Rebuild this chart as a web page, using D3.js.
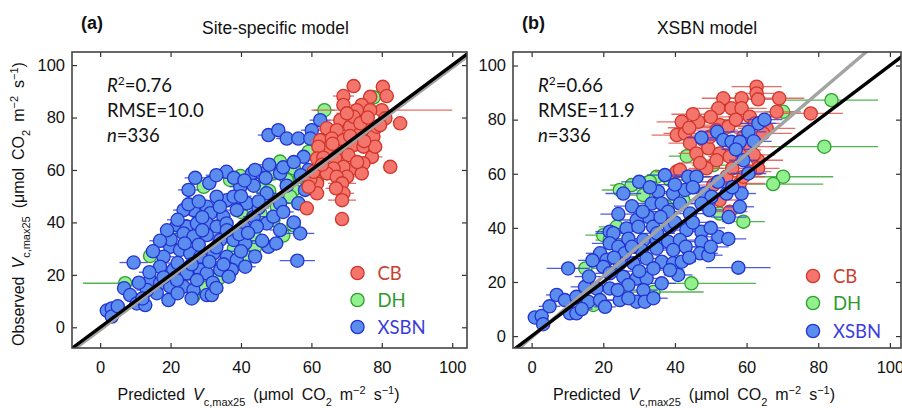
<!DOCTYPE html>
<html>
<head>
<meta charset="utf-8">
<script src="https://cdn.jsdelivr.net/npm/d3@7"></script>
<style>
  body { margin: 0; background: #fff; }
  svg text { font-family: "Liberation Sans", Arial, sans-serif; fill: #111; }
  .calib { font-family: Lato, "Open Sans", sans-serif; }
</style>
</head>
<body>
<svg id="chart" width="902" height="408"></svg>
<script>
// axis ticks (same on both axes / panels)
const tickValues = [0, 20, 40, 60, 80, 100];
const groups = ["CB", "DH", "XSBN"];

// [predicted, observed, error half-width] -- panel (a) site-specific model
const siteCB = [
  [72.0,92.0,2],[80.3,91.7,2],[81.4,88.2,2],[69.1,88.2,3],[69.1,84.8,2],[76.7,87.9,2],[74.3,84.8,3],
  [72.9,82.8,4],[80.0,82.8,20],[68.2,79.0,3],[75.3,79.0,2],[81.0,79.7,2],[85.2,77.8,2],[64.4,75.9,3],
  [67.2,75.2,3],[71.0,76.5,2],[73.9,74.0,3],[77.6,72.7,2],[62.5,71.4,3],[65.8,72.0,2],[69.1,71.4,3],
  [72.0,69.5,4],[74.8,68.9,2],[64.4,68.2,3],[68.2,67.0,3],[62.0,68.9,2],[70.5,65.7,2],[77.2,65.0,3],
  [66.8,64.4,4],[61.6,64.4,2],[74.8,62.5,3],[72.0,60.6,2],[82.4,61.2,2],[69.1,61.2,4],[66.3,60.6,3],
  [70.1,57.4,4],[74.3,58.7,2],[64.4,58.7,3],[67.2,57.4,3],[68.7,54.9,4],[61.6,54.9,2],[69.1,51.1,3],
  [61.6,51.1,2],[68.7,48.5,4],[58.7,45.4,2],[68.7,41.3,2],[59.7,56.4,2],[59.2,53.6,2],[72.0,80.3,3],
  [73.9,77.8,2],[78.6,76.5,2],[70.1,81.6,3],[76.7,82.8,2],[79.5,77.1,2],[78.1,68.9,2],[63.4,64.7,3],
  [60.6,59.3,2],[66.0,70.0,3],[71.0,73.0,2],[75.0,71.0,3],[63.0,62.0,2],[67.0,53.0,3],[73.0,63.0,2],
  [76.0,80.0,2]
];
const siteDH = [
  [77.7,87.7,2],[63.7,82.8,3],[74.8,70.1,2],[59.2,67.0,2],[51.1,63.2,3],[62.9,58.7,2],[61.6,55.5,2],
  [39.8,57.7,2],[29.4,53.6,2],[55.0,60.6,3],[49.2,58.7,3],[53.0,56.2,2],[55.0,52.4,3],[56.3,47.3,3],
  [54.0,49.8,2],[45.5,53.6,2],[47.3,48.5,3],[50.2,46.0,2],[54.9,38.9,2],[44.0,34.4,3],[44.0,30.5,2],
  [41.7,26.9,2],[34.1,20.2,2],[14.2,27.2,2],[7.1,16.8,12],[26.5,11.7,2],[21.8,37.1,2],[36.9,56.2,2],
  [56.8,57.4,2],[60.6,53.6,2],[45.5,43.5,3],[49.2,40.9,2],[33.7,18.7,2],[35.0,40.0,2],[40.0,44.0,3],
  [38.0,30.0,2],[30.0,15.0,2],[52.0,35.0,2],[48.0,52.0,2]
];
const siteXSBN = [
  [62.5,79.0,3],[60.1,75.2,3],[47.8,73.3,3],[50.6,75.2,2],[53.0,72.0,3],[56.3,72.0,3],[59.7,72.0,2],
  [57.8,65.0,2],[59.2,60.0,3],[35.9,59.3,3],[43.1,58.7,2],[45.9,58.7,2],[51.1,58.7,2],[25.1,52.4,3],
  [39.8,53.6,3],[43.6,54.0,2],[47.3,51.1,3],[51.1,47.3,3],[56.3,47.3,2],[58.2,52.4,2],[36.0,48.5,3],
  [33.1,49.8,2],[37.9,49.8,3],[41.7,47.3,3],[30.3,46.0,3],[26.5,44.7,2],[23.7,44.7,3],[31.3,43.5,3],
  [35.0,42.2,2],[38.8,44.7,3],[43.6,42.2,3],[47.3,39.6,2],[49.2,42.2,3],[21.8,39.0,3],[24.6,38.4,2],
  [27.5,39.6,3],[30.3,39.6,2],[33.1,38.4,3],[35.9,39.6,2],[40.7,38.4,3],[44.5,38.4,2],[51.1,37.1,3],
  [56.8,35.8,4],[23.7,35.8,3],[26.5,34.6,2],[30.3,35.2,3],[34.1,33.3,3],[37.9,33.3,2],[41.2,32.0,3],
  [47.8,30.7,2],[19.9,30.7,3],[22.7,29.5,2],[25.6,28.2,3],[28.4,26.9,3],[32.2,28.2,2],[36.0,26.9,3],
  [38.8,25.7,2],[41.2,23.1,3],[37.4,21.9,2],[18.0,26.9,3],[17.0,23.1,2],[20.8,21.9,3],[24.6,20.6,3],
  [28.4,21.9,2],[30.3,20.6,3],[34.1,21.9,2],[36.5,19.3,2],[56.0,25.4,5],[9.5,24.7,4],[14.2,18.0,3],
  [17.0,16.8,3],[19.9,15.5,2],[23.7,15.5,3],[26.5,14.2,2],[30.3,12.3,2],[31.7,12.3,2],[27.5,18.0,3],
  [21.8,18.0,2],[6.8,14.9,2],[8.5,12.3,2],[10.4,9.1,2],[12.8,8.5,2],[1.9,6.4,2],[3.3,7.2,2],
  [3.3,4.1,2],[16.1,13.0,2],[19.4,10.4,2],[13.3,14.2,3],[25.1,46.9,2],[29.0,42.0,3],[33.0,30.5,2],
  [39.5,35.5,3],[45.0,45.5,3],[28.0,31.5,2],[22.0,24.5,3],[32.0,17.0,2],[20.0,33.5,2],
  [27.0,57.0,3],[31.0,55.0,2],[33.0,58.0,3],[38.0,57.0,2],[41.0,56.0,3],[44.0,60.0,2],[47.0,57.0,3],
  [53.0,54.0,2],[40.0,50.0,3],[45.0,48.0,2],[34.0,46.0,3],[28.0,48.0,2],[22.0,41.0,3],[19.0,37.0,2],
  [17.0,33.0,3],[15.0,29.0,2],[24.0,32.0,3],[29.0,37.0,2],[36.0,37.0,3],[42.0,36.0,2],[46.0,33.0,3],
  [50.0,32.0,2],[52.0,44.0,3],[55.0,40.0,2],[26.0,24.0,2],[31.0,25.0,3],[35.0,24.0,2],[40.0,29.0,3],
  [44.0,27.0,2],[11.0,17.0,2],[14.0,21.0,3],[18.0,19.0,2],[22.0,13.0,2],[26.0,11.0,2],[33.0,15.0,2],
  [12.0,11.0,2],[5.0,8.0,2],[48.0,62.0,3],[52.0,61.0,2],[55.0,63.0,3],[57.0,58.0,2]
];

// panel (b) XSBN model
const xsbnCB = [
  [62.8,92.2,7],[62.8,89.7,6],[53.5,87.9,6],[58.6,87.9,6],[63.2,87.5,5],[69.1,87.9,7],[52.1,84.2,7],
  [55.8,84.2,6],[58.6,84.2,7],[68.4,82.9,6],[77.9,82.3,9],[41.9,79.2,7],[46.5,79.2,6],[52.5,78.0,8],
  [54.9,77.4,7],[60.9,81.1,6],[62.3,78.6,7],[65.6,76.8,8],[40.5,74.3,7],[42.8,74.9,6],[44.2,71.3,6],
  [47.9,72.5,7],[49.3,69.4,6],[52.5,67.5,7],[55.3,66.3,6],[46.0,67.5,5],[51.6,65.0,7],[58.1,68.8,6],
  [63.2,65.0,7],[63.2,62.0,6],[40.5,60.8,6],[41.4,61.4,5],[60.9,60.8,6],[58.1,56.4,7],[52.5,50.3,6],
  [55.3,46.0,5],[50.7,55.8,6],[54.4,58.9,7],[49.8,73.7,6],[59.1,73.7,7],[51.6,76.1,6],[64.6,74.9,8],
  [59.1,58.9,6],[48.8,62.0,5],[45.0,82.0,6],[50.0,81.0,7],[57.0,80.0,6],[61.0,70.0,7],[47.0,64.0,6],
  [56.0,62.0,7],[62.0,67.0,6],[44.0,77.0,6]
];
const xsbnDH = [
  [83.7,87.2,13],[70.2,82.9,5],[81.7,70.0,15],[43.3,66.5,5],[50.7,63.2,6],[70.2,58.9,14],[67.4,56.2,14],
  [34.9,58.9,6],[33.0,57.1,6],[27.9,55.8,6],[24.6,54.0,5],[31.2,52.1,6],[38.6,57.7,6],[46.0,58.9,5],
  [52.5,45.3,5],[59.1,42.3,6],[44.6,19.5,18],[20.0,37.3,5],[23.7,40.4,5],[21.8,35.5,4],[37.7,47.8,6],
  [42.3,50.3,5],[35.8,42.9,5],[34.0,16.3,14],[17.2,11.5,4],[15.0,25.0,4]
];
const xsbnXSBN = [
  [63.3,78.6,5],[60.5,75.5,5],[51.8,75.5,5],[47.4,73.3,4],[53.5,72.5,5],[55.8,71.8,4],[58.1,71.8,5],
  [59.1,65.0,4],[60.5,60.1,5],[37.2,59.5,5],[43.7,58.9,4],[46.0,58.9,4],[25.6,52.7,5],[35.3,53.4,4],
  [39.5,52.7,5],[42.8,54.0,4],[48.4,52.7,5],[50.2,51.5,4],[54.4,52.7,5],[58.6,52.7,4],[58.1,47.8,4],
  [33.5,49.0,5],[36.3,49.0,4],[41.4,49.0,5],[47.4,49.0,4],[38.1,46.0,4],[44.2,45.3,5],[49.6,46.6,4],
  [24.2,45.1,5],[32.5,44.1,4],[29.3,42.9,5],[26.5,39.8,4],[29.8,40.4,5],[33.9,40.4,4],[38.6,40.4,5],
  [43.2,39.2,4],[47.4,38.6,5],[21.8,38.6,4],[22.8,38.0,5],[52.1,36.7,4],[54.9,35.9,5],[31.2,35.5,4],
  [34.9,35.5,5],[38.1,34.9,4],[41.4,35.5,5],[47.4,34.9,4],[21.8,34.3,5],[24.2,33.0,4],[26.0,30.6,5],
  [30.7,31.8,4],[34.9,32.4,5],[39.5,31.8,4],[47.0,30.6,5],[49.3,29.9,4],[19.1,30.6,4],[20.9,28.1,5],
  [20.0,25.6,4],[24.6,26.9,5],[28.4,26.9,4],[32.1,28.7,5],[36.3,27.5,4],[39.5,26.9,5],[41.9,27.5,4],
  [10.2,25.0,6],[57.7,25.3,9],[21.8,23.2,4],[25.6,21.9,5],[29.3,21.3,4],[32.1,21.3,5],[36.3,19.5,4],
  [40.9,22.6,4],[14.9,18.2,4],[18.1,17.6,4],[21.8,17.6,5],[27.0,18.9,4],[31.2,17.0,4],[7.0,15.2,3],
  [9.3,13.3,3],[12.5,14.5,4],[15.8,12.7,3],[19.1,13.3,4],[20.5,10.8,3],[24.6,13.3,4],[29.3,12.7,3],
  [31.6,12.7,4],[10.7,8.4,3],[12.5,8.4,3],[0.9,6.9,2],[2.8,7.4,2],[3.2,4.4,2],[38.6,24.4,4],
  [30.0,57.0,5],[33.0,55.0,4],[40.0,56.0,5],[45.0,55.0,4],[52.0,57.0,5],[56.0,55.0,4],[28.0,48.0,5],
  [31.0,46.0,4],[45.0,42.0,5],[50.0,40.0,4],[55.0,44.0,5],[36.0,44.0,4],[40.0,42.0,5],[27.0,36.0,4],
  [35.0,38.0,5],[43.0,33.0,4],[50.0,33.0,5],[28.0,33.0,4],[44.0,29.0,5],[17.0,28.0,4],[23.0,29.0,5],
  [30.0,24.0,4],[34.0,25.0,5],[16.0,22.0,4],[24.0,17.0,4],[27.0,14.0,4],[34.0,14.0,4],[5.0,11.0,3],
  [14.0,10.0,3],[62.0,72.0,5],[57.0,69.0,4],[65.0,80.0,5]
];

// fitted regression lines [slope, intercept]; black is the 1:1 line
const siteFit = [1.0, -1.0];
const xsbnFit = [1.13, -0.5];

const colors = {
  CB:   { fill: "#f4756b", stroke: "#d1352b", bar: "#e0574f", text: "#c9412f" },
  DH:   { fill: "#93f08f", stroke: "#2f9e2f", bar: "#34a834", text: "#2e9a2e" },
  XSBN: { fill: "#5b8def", stroke: "#2433d0", bar: "#3040dd", text: "#3a3ddc" }
};

const panels = [
  { id: "a", tag: "(a)", title: "Site-specific model", left: 72, right: 467, top: 52, bottom: 348,
    xDom: [-8, 104.2], yDom: [-7.9, 105], r2: "0.76", rmse: "10.0", n: "336",
    data: { CB: siteCB, DH: siteDH, XSBN: siteXSBN }, order: ["DH", "XSBN", "CB"], fit: siteFit,
    yLabel: true },
  { id: "b", tag: "(b)", title: "XSBN model", left: 513, right: 901, top: 52, bottom: 348,
    xDom: [-5.2, 103.1], yDom: [-4.4, 105], r2: "0.66", rmse: "11.9", n: "336",
    data: { CB: xsbnCB, DH: xsbnDH, XSBN: xsbnXSBN }, order: ["DH", "CB", "XSBN"], fit: xsbnFit,
    yLabel: false }
];

const svg = d3.select("#chart");

// writes "Predicted/Observed V c,max25 (μmol CO2 m-2 s-1)"
function vcText(t, word) {
  t.append("tspan").text(word + "\u2002");
  t.append("tspan").attr("font-style", "italic").text("V");
  t.append("tspan").attr("baseline-shift", "sub").attr("font-size", "11px").text("c,max25");
  t.append("tspan").text("\u2002(\u03bcmol\u2002CO");
  t.append("tspan").attr("baseline-shift", "sub").attr("font-size", "11px").text("2");
  t.append("tspan").text("\u2002m");
  t.append("tspan").attr("baseline-shift", "super").attr("font-size", "11px").text("\u22122");
  t.append("tspan").text("\u2002s");
  t.append("tspan").attr("baseline-shift", "super").attr("font-size", "11px").text("\u22121");
  t.append("tspan").text(")");
}

panels.forEach((p) => {
  const x = d3.scaleLinear().domain(p.xDom).range([p.left, p.right]);
  const y = d3.scaleLinear().domain(p.yDom).range([p.bottom, p.top]);
  const w = p.right - p.left;
  const h = p.bottom - p.top;

  svg.append("clipPath").attr("id", "clip-" + p.id)
    .append("rect").attr("x", p.left).attr("y", p.top).attr("width", w).attr("height", h);

  const g = svg.append("g").attr("clip-path", `url(#clip-${p.id})`);

  // error bars and points, group by group
  p.order.forEach((k) => {
    const c = colors[k];
    const gg = g.append("g");
    gg.selectAll("line")
      .data(p.data[k])
      .join("line")
      .attr("x1", (d) => x(d[0] - d[2]))
      .attr("x2", (d) => x(d[0] + d[2]))
      .attr("y1", (d) => y(d[1]))
      .attr("y2", (d) => y(d[1]))
      .attr("stroke", c.bar)
      .attr("stroke-width", 1.3)
      .attr("opacity", 0.85);
    gg.selectAll("circle")
      .data(p.data[k])
      .join("circle")
      .attr("cx", (d) => x(d[0]))
      .attr("cy", (d) => y(d[1]))
      .attr("r", 6.6)
      .attr("fill", c.fill)
      .attr("stroke", c.stroke)
      .attr("stroke-width", 1.3);
  });

  // regression (grey) and 1:1 (black) lines
  const xs = [-20, 120];
  g.append("line")
    .attr("x1", x(xs[0])).attr("y1", y(p.fit[0] * xs[0] + p.fit[1]))
    .attr("x2", x(xs[1])).attr("y2", y(p.fit[0] * xs[1] + p.fit[1]))
    .attr("stroke", "#a3a3a3").attr("stroke-width", 3.4);
  g.append("line")
    .attr("x1", x(xs[0])).attr("y1", y(xs[0]))
    .attr("x2", x(xs[1])).attr("y2", y(xs[1]))
    .attr("stroke", "#000").attr("stroke-width", 3.4);

  // axes, ticks pointing inward, mirrored on top / right
  const styleAxis = (a) => {
    a.select(".domain").remove();
    a.selectAll(".tick line").attr("stroke", "#333").attr("stroke-width", 1.2);
    a.selectAll(".tick text").attr("font-size", "16.5px").attr("fill", "#111")
      .attr("font-family", "Liberation Sans, Arial, sans-serif");
  };
  svg.append("g").attr("transform", `translate(0,${p.bottom})`)
    .call(d3.axisBottom(x).tickValues(tickValues).tickSize(-5).tickPadding(13))
    .call(styleAxis);
  svg.append("g").attr("transform", `translate(0,${p.top})`)
    .call(d3.axisTop(x).tickValues(tickValues).tickSize(-5).tickFormat(""))
    .call(styleAxis);
  svg.append("g").attr("transform", `translate(${p.left},0)`)
    .call(d3.axisLeft(y).tickValues(tickValues).tickSize(-5).tickPadding(7))
    .call(styleAxis);
  svg.append("g").attr("transform", `translate(${p.right},0)`)
    .call(d3.axisRight(y).tickValues(tickValues).tickSize(-5).tickFormat(""))
    .call(styleAxis);

  svg.append("rect")
    .attr("x", p.left).attr("y", p.top).attr("width", w).attr("height", h)
    .attr("fill", "none").attr("stroke", "#444").attr("stroke-width", 1.6);

  // tag and title
  svg.append("text").attr("x", p.left + 9).attr("y", 29)
    .attr("font-size", "18px").attr("font-weight", "bold").text(p.tag);
  svg.append("text").attr("x", p.left + w / 2 + (p.id === "a" ? 6 : 0)).attr("y", 34)
    .attr("text-anchor", "middle").attr("font-size", "17.5px").text(p.title);

  // stats
  const sx = p.left + (p.id === "a" ? 35 : 25);
  const s1 = svg.append("text").attr("class", "calib").attr("x", sx).attr("y", 92).attr("font-size", "18.5px");
  s1.append("tspan").attr("font-style", "italic").text("R");
  s1.append("tspan").attr("baseline-shift", "super").attr("font-size", "12px").text("2");
  s1.append("tspan").text("=" + p.r2);
  svg.append("text").attr("class", "calib").attr("x", sx).attr("y", 117).attr("font-size", "18.5px")
    .text("RMSE=" + p.rmse);
  const s3 = svg.append("text").attr("class", "calib").attr("x", sx).attr("y", 142).attr("font-size", "18.5px");
  s3.append("tspan").attr("font-style", "italic").text("n");
  s3.append("tspan").text("=" + p.n);

  // legend
  const lx = p.id === "a" ? 357.5 : 813;
  const ly = p.id === "a" ? [273, 300, 327] : [276, 303, 331];
  groups.forEach((k, i) => {
    svg.append("circle").attr("cx", lx).attr("cy", ly[i]).attr("r", 6.6)
      .attr("fill", colors[k].fill).attr("stroke", colors[k].stroke).attr("stroke-width", 1.3);
    svg.append("text").attr("class", "calib").attr("x", lx + 20).attr("y", ly[i] + 6.5)
      .attr("font-size", "18.5px").style("fill", colors[k].text).text(k);
  });

  // x label
  const xl = svg.append("text").attr("x", p.left + w / 2 + (p.id === "a" ? -11 : -13)).attr("y", 400)
    .attr("text-anchor", "middle").attr("font-size", "16px");
  vcText(xl, "Predicted");

  if (p.yLabel) {
    const yl = svg.append("text")
      .attr("transform", `translate(24,${p.top + h / 2 + 4}) rotate(-90)`)
      .attr("text-anchor", "middle").attr("font-size", "16px");
    vcText(yl, "Observed");
  }
});
</script>
</body>
</html>
